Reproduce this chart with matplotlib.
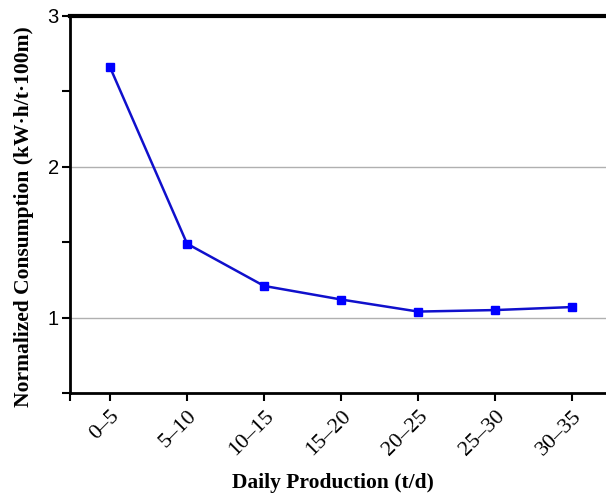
import matplotlib
matplotlib.use("Agg")
import matplotlib.pyplot as plt

categories = ["0\u20135", "5\u201310", "10\u201315", "15\u201320", "20\u201325", "25\u201330", "30\u201335"]
consumption = [2.66, 1.49, 1.21, 1.12, 1.04, 1.05, 1.07]


def main():
    fig = plt.figure(figsize=(6.06, 4.99), dpi=100)
    ax = fig.add_axes([0.1155, 0.2124, 0.8845, 0.7556])

    x = list(range(len(categories)))
    ax.plot(x, consumption, color="#1010cc", lw=1.8, marker="s",
            markersize=6, markerfacecolor="#0000ff", markeredgecolor="#0000ff",
            zorder=3)

    ax.set_xlim(-0.52, 6.44)
    ax.set_ylim(0.5, 3)
    ax.set_xticks(x)
    ax.set_xticks([-0.52], minor=True)
    ax.set_xticklabels(categories, rotation=45, ha="right", va="top",
                       rotation_mode="anchor", fontsize=16,
                       family="Liberation Serif")
    ax.set_yticks([1, 2, 3])
    ax.set_yticks([0.5, 1.5, 2.5], minor=True)
    ax.set_yticklabels(["1", "2", "3"], fontsize=14.5, family="Liberation Sans")

    ax.tick_params(axis="both", which="both", direction="out", length=6,
                   width=1.5, color="black")
    ax.tick_params(axis="x", which="major", pad=4)
    ax.tick_params(axis="y", which="major", pad=2)

    ax.grid(axis="y", which="major", color="#b0b0b0", lw=1)
    ax.set_axisbelow(True)

    ax.spines["right"].set_visible(False)
    ax.spines["left"].set_linewidth(2)
    ax.spines["bottom"].set_linewidth(2)
    ax.spines["top"].set_linewidth(3)

    ax.set_xlabel("Daily Production (t/d)", fontsize=15.5, fontweight="bold",
                  family="Liberation Serif")
    ax.set_ylabel("Normalized Consumption (kW\u00b7h/t\u00b7100m)", fontsize=15.5,
                  fontweight="bold", family="Liberation Serif")
    ax.xaxis.set_label_coords(0.49, -0.212)
    ax.yaxis.set_label_coords(-0.068, 0.467)

    fig.savefig("out.png", dpi=100)


if __name__ == "__main__":
    main()
